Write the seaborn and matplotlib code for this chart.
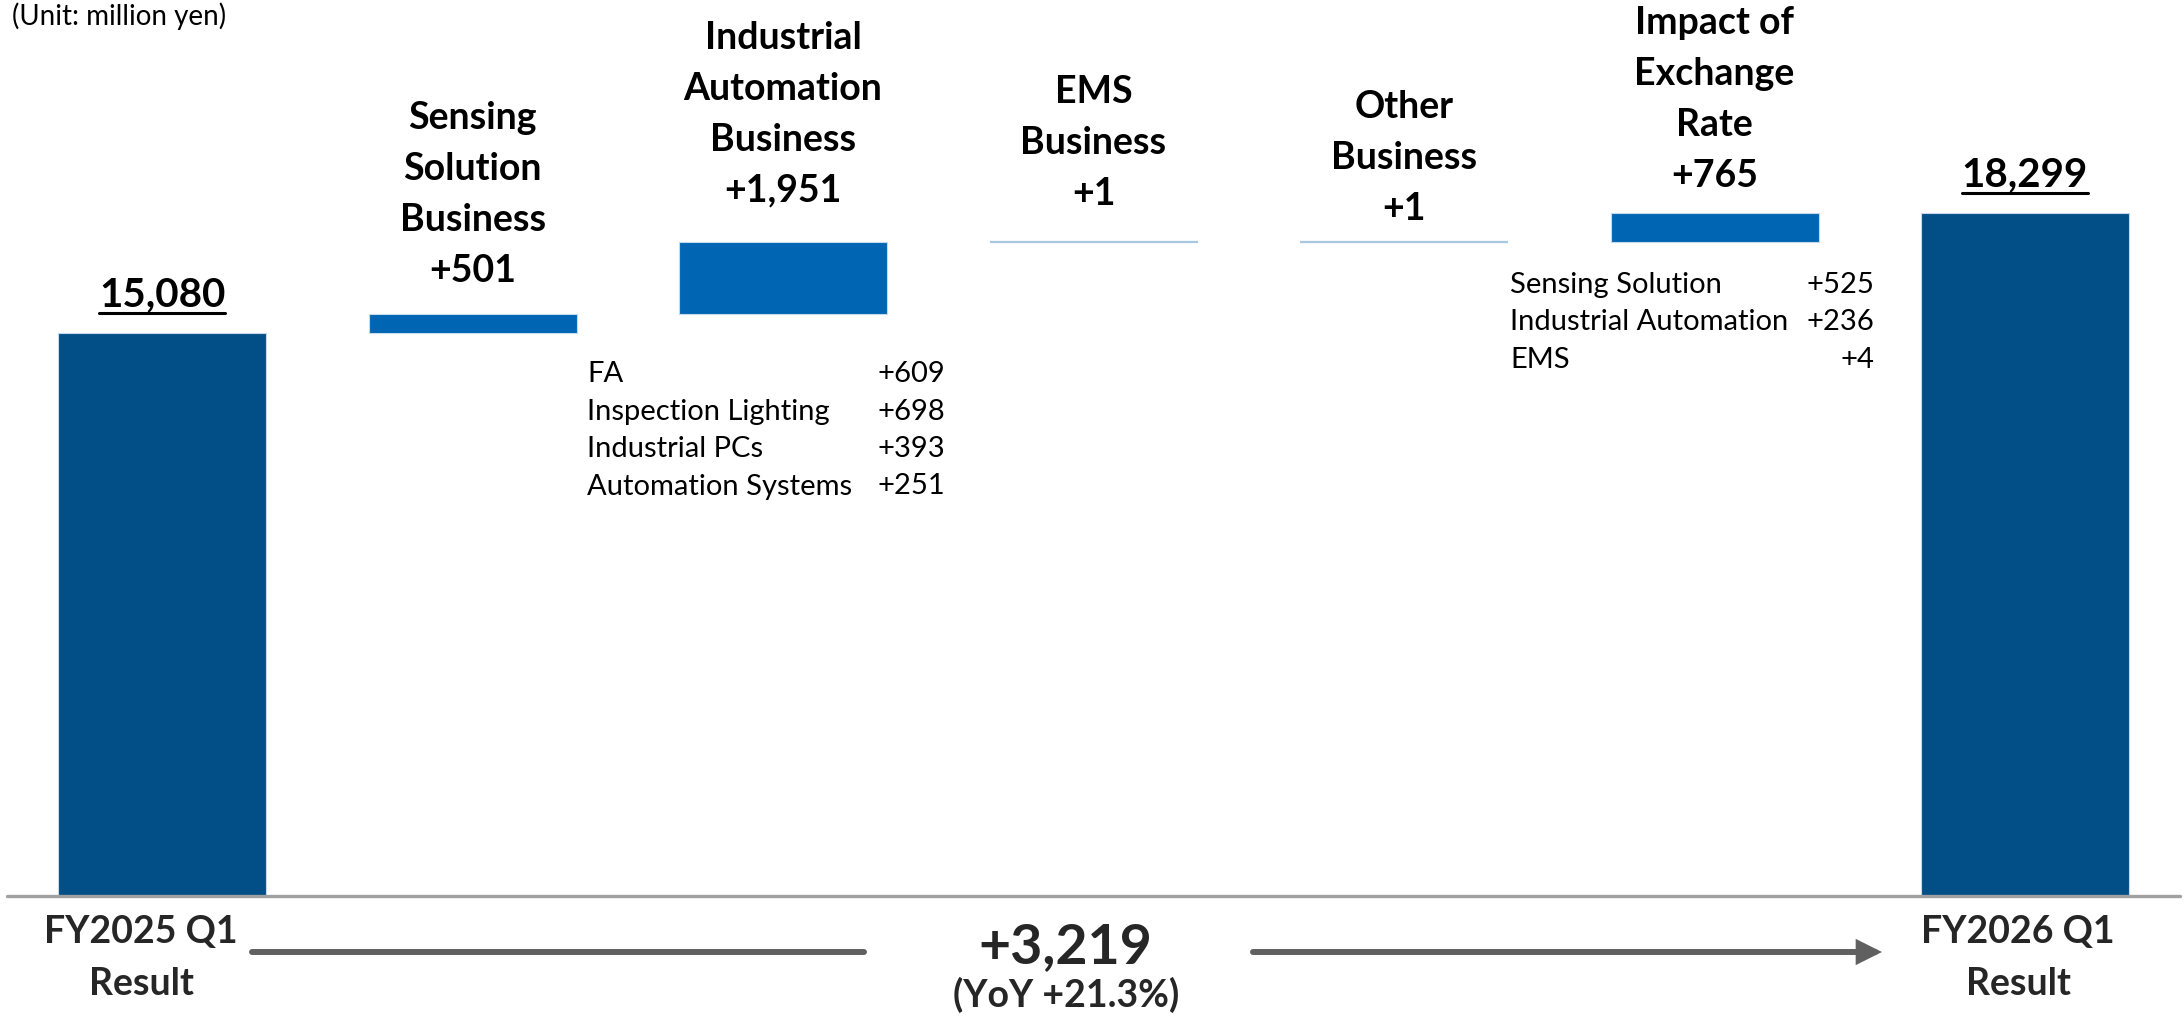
import matplotlib
matplotlib.use("Agg")
import matplotlib.pyplot as plt
import seaborn as sns
import pandas as pd
from matplotlib.lines import Line2D
from matplotlib.patches import FancyArrowPatch

# ---------------- data ----------------
categories = ["FY2025 Q1 Result", "Sensing Solution Business",
              "Industrial Automation Business", "EMS Business",
              "Other Business", "Impact of Exchange Rate", "FY2026 Q1 Result"]
bar_values = [15080, 501, 1951, 1, 1, 765, 18299]
bar_kinds = ["total", "delta", "delta", "delta", "delta", "delta", "total"]
header_labels = ["15,080",
                 "Sensing\nSolution\nBusiness\n+501",
                 "Industrial\nAutomation\nBusiness\n+1,951",
                 "EMS\nBusiness\n+1",
                 "Other\nBusiness\n+1",
                 "Impact of\nExchange\nRate\n+765",
                 "18,299"]
ia_items = ["FA", "Inspection Lighting", "Industrial PCs", "Automation Systems"]
ia_values = ["+609", "+698", "+393", "+251"]
fx_items = ["Sensing Solution", "Industrial Automation", "EMS"]
fx_values = ["+525", "+236", "+4"]
start_label = "FY2025 Q1\nResult"
end_label = "FY2026 Q1\nResult"
total_change = "+3,219"
yoy_text = "(YoY +21.3%)"
unit_text = "(Unit: million yen)"

# ---------------- style ----------------
sns.set_style("white")
plt.rcParams['font.family'] = ['Lato', 'DejaVu Sans']

W, H = 2184, 1023
DARK = "#024F88"
MID = "#0066B3"
LIGHT = "#A8C8E0"
face_colors = {"total": DARK, "delta": MID}

def fxp(px):
    return px / W

def fyp(py):
    return 1 - py / H

fig = plt.figure(figsize=(W / 100, H / 100), dpi=100)
base_px = 896
ax = fig.add_axes([0, 1 - base_px / H, 1, base_px / H])

# waterfall bottoms
bottoms = []
running = 0
for v, k in zip(bar_values, bar_kinds):
    if k == "total":
        bottoms.append(0)
        running = v
    else:
        bottoms.append(running)
        running += v

df = pd.DataFrame({"category": categories, "value": bar_values})
sns.barplot(data=df, x="category", y="value", order=categories, width=0.67,
            bottom=bottoms, color=MID, errorbar=None, ax=ax)

for patch, k, v in zip(ax.patches, bar_kinds, bar_values):
    patch.set_facecolor(face_colors[k])
    if v < 10:
        patch.set_edgecolor(LIGHT)
        patch.set_linewidth(1.6)
    else:
        patch.set_edgecolor("#C5D9EA")
        patch.set_linewidth(0.8)

ax.set_xlim(-0.522, 6.512)
ax.set_ylim(0, 24006)
ax.axis("off")

# baseline
ax.axhline(0, xmin=0.003, xmax=0.998, color="#A0A0A0", lw=2.4, clip_on=False, zorder=5)

# header labels above bars
offsets_px = [27, 32, 40, 37, 22, 26, 27]
line_gap = 51
header_size = 27
total_size = 29
total_texts = []
for i, (lab, off) in enumerate(zip(header_labels, offsets_px)):
    top = bottoms[i] + bar_values[i]
    lines = lab.split("\n")
    size = total_size if bar_kinds[i] == "total" else header_size
    for k, line in enumerate(reversed(lines)):
        t = ax.annotate(line, xy=(i, top), xytext=(0, off + k * line_gap),
                        textcoords="offset pixels", ha="center", va="baseline",
                        fontsize=size, fontweight="bold", color="black",
                        annotation_clip=False)
        if bar_kinds[i] == "total":
            total_texts.append((t, i, top, off))

# breakdown tables
row_gap = 37.5
small_size = 21
for r, (name, val) in enumerate(zip(ia_items, ia_values)):
    y = fyp(382 + r * row_gap)
    fig.text(fxp(587), y, name, ha="left", va="baseline", fontsize=small_size, color="black")
    fig.text(fxp(945), y, val, ha="right", va="baseline", fontsize=small_size, color="black")
for r, (name, val) in enumerate(zip(fx_items, fx_values)):
    y = fyp(293 + r * row_gap)
    fig.text(fxp(1510), y, name, ha="left", va="baseline", fontsize=small_size, color="black")
    fig.text(fxp(1874), y, val, ha="right", va="baseline", fontsize=small_size, color="black")

# unit
fig.text(fxp(12), fyp(25), unit_text, ha="left", va="baseline", fontsize=20, color="black")

# bottom labels
for lab, cx in [(start_label, 141), (end_label, 2018)]:
    l1, l2 = lab.split("\n")
    fig.text(fxp(cx), fyp(943), l1, ha="center", va="baseline",
             fontsize=header_size, fontweight="bold")
    fig.text(fxp(cx), fyp(995), l2, ha="center", va="baseline",
             fontsize=header_size, fontweight="bold")

fig.text(fxp(1065), fyp(963), total_change, ha="center", va="baseline",
         fontsize=40, fontweight="bold")
fig.text(fxp(1066), fyp(1007), yoy_text, ha="center", va="baseline",
         fontsize=27, fontweight="bold")

# arrow
arrow_color = "#606060"
ln = Line2D([fxp(252), fxp(864)], [fyp(952), fyp(952)], transform=fig.transFigure,
            color=arrow_color, lw=4.3, solid_capstyle="round")
fig.add_artist(ln)
arr = FancyArrowPatch((fxp(1253), fyp(952)), (fxp(1882), fyp(952)),
                      transform=fig.transFigure,
                      arrowstyle="-|>,head_length=1.0,head_width=0.5",
                      mutation_scale=12, color=arrow_color, lw=4.3,
                      shrinkA=0, shrinkB=0, capstyle="round", joinstyle="miter")
fig.add_artist(arr)

# underline for totals
fig.canvas.draw()
renderer = fig.canvas.get_renderer()
for t, i, top, off in total_texts:
    bb = t.get_window_extent(renderer)
    base_y = ax.transData.transform((i, top))[1] + off
    uy = (base_y - 7) / H
    fig.add_artist(Line2D([bb.x0 / W, bb.x1 / W], [uy, uy], transform=fig.transFigure,
                          color="black", lw=2.2))

fig.savefig("out.png", dpi=100)
